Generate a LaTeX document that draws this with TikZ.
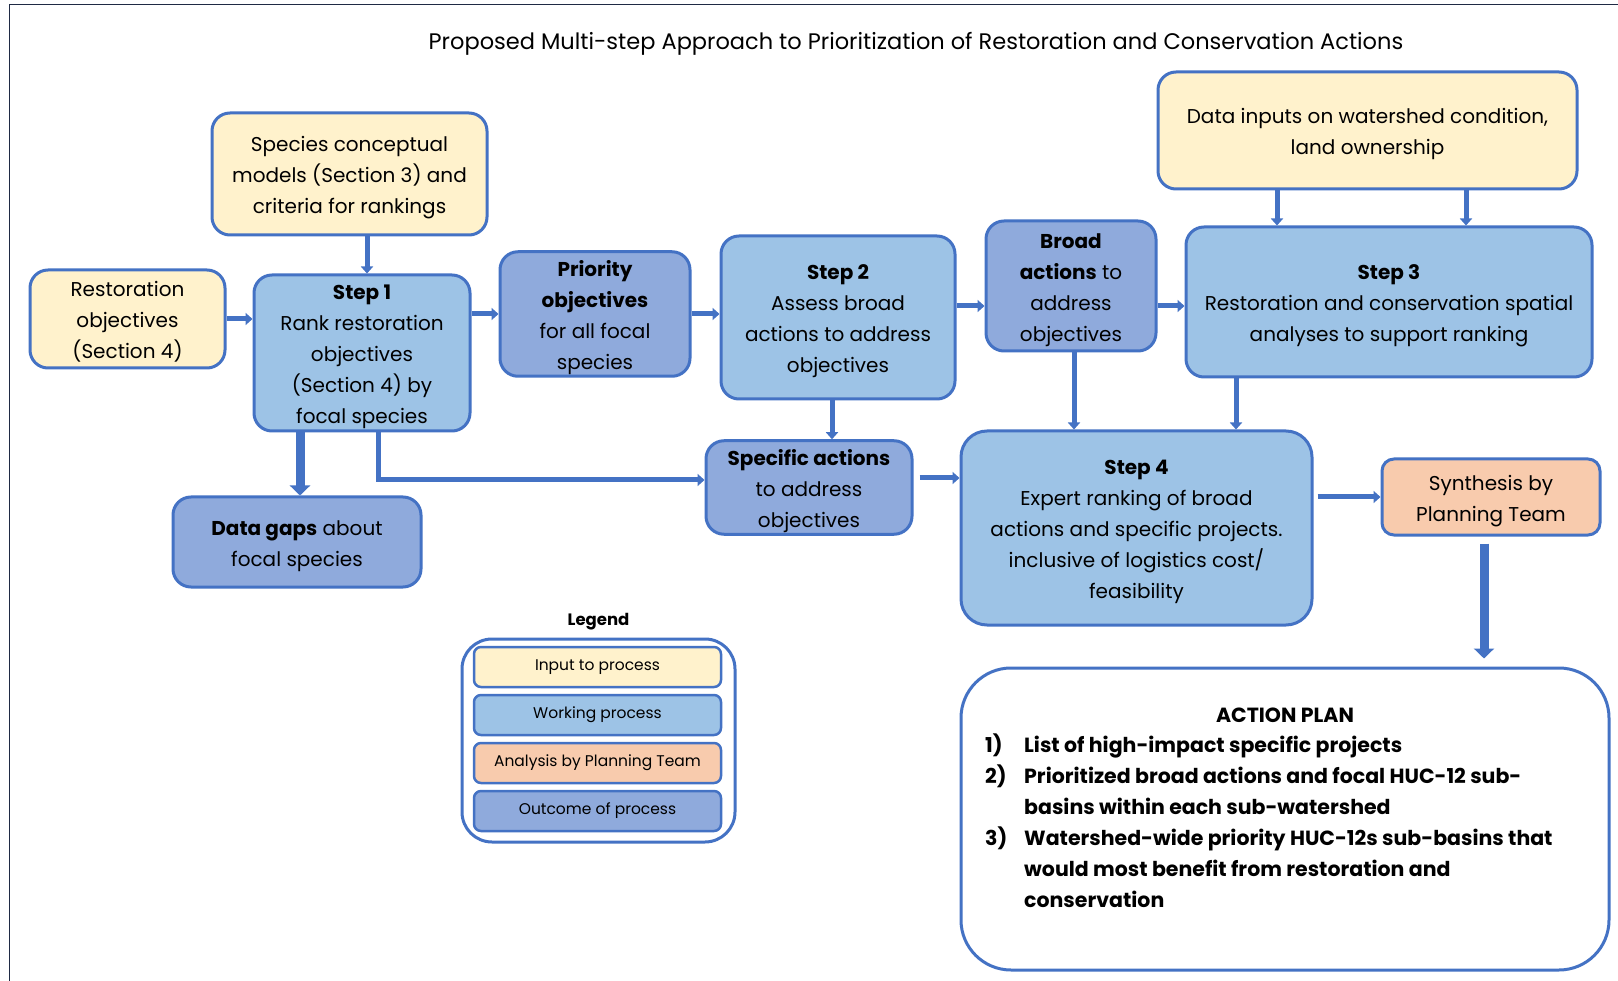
\documentclass[tikz,border=0pt]{standalone}
\usepackage{fontspec}
\setmainfont{Poppins}
\usetikzlibrary{arrows.meta}

\definecolor{edge}{HTML}{4472C4}
\definecolor{inputfill}{HTML}{FFF2CC}
\definecolor{workfill}{HTML}{9DC3E6}
\definecolor{teamfill}{HTML}{F8CBAD}
\definecolor{outfill}{HTML}{8FAADC}
\definecolor{framecol}{HTML}{1F2A44}

\newcommand\boxfont{\fontsize{20}{31}\selectfont}
\newcommand\legfont{\fontsize{15.5}{18}\selectfont}
\newcommand\planfont{\fontsize{20.5}{31}\selectfont\bfseries}
% invisible strut: fixes the height of the first and the depth of the last line
\newcommand\boxstrut{\rule[-7pt]{0pt}{31.5pt}}

\tikzset{
  base/.style={draw=edge, line width=3pt, rounded corners=18pt, align=center,
    inner sep=0pt, font=\boxfont, text=black, execute at end node=\boxstrut},
  sz/.style 2 args={minimum width=#1pt, minimum height=#2pt},
  inputbox/.style={base, fill=inputfill},
  workbox/.style={base, fill=workfill},
  teambox/.style={base, fill=teamfill, rounded corners=12pt},
  outbox/.style={base, fill=outfill},
  arr/.style={draw=edge, line width=5pt, -{Triangle[width=12pt,length=7pt]}},
  bigarr/.style={draw=edge, line width=9pt, -{Triangle[width=20pt,length=10pt]}},
  keybox/.style={draw=edge, line width=2.5pt, rounded corners=7pt,
    minimum width=247pt, minimum height=40pt, font=\legfont, inner sep=0pt},
}

\begin{document}
\begin{tikzpicture}[x=1pt, y=-1pt]
  \useasboundingbox (0,0) rectangle (1618,981);
  \fill[white] (0,0) rectangle (1618,981);
  % page frame (top and left rules)
  \draw[framecol, line width=1.5pt] (9.5,981) -- (9.5,4.5) -- (1618,4.5);

  \node[font=\fontsize{22.5}{27}\selectfont] (title) at (916,44)
    {Proposed Multi-step Approach to Prioritization of Restoration and Conservation Actions};

  % inputs
  \node[inputbox, sz={275}{122}] (species) at (349.5,174)
    {\boxstrut Species conceptual\\models (Section 3) and\\criteria for rankings};
  \node[inputbox, sz={195}{98}] (restor) at (127.5,319)
    {\boxstrut Restoration\\objectives\\(Section 4)};
  \node[inputbox, sz={419}{117}] (datain) at (1367.5,130.5)
    {\boxstrut Data inputs on watershed condition,\\land ownership};

  % working steps
  \node[workbox, sz={216}{156}] (step1) at (362,353)
    {\boxstrut\textbf{Step 1}\\Rank restoration\\objectives\\(Section 4) by\\focal species};
  \node[workbox, sz={234}{163}] (step2) at (838,317.5)
    {\boxstrut\textbf{Step 2}\\Assess broad\\actions to address\\objectives};
  \node[workbox, sz={406}{150}] (step3) at (1389,302)
    {\boxstrut\textbf{Step 3}\\Restoration and conservation spatial\\analyses to support ranking};
  \node[workbox, sz={351}{194}, rounded corners=26pt] (step4) at (1136.5,528)
    {\boxstrut\textbf{Step 4}\\Expert ranking of broad\\actions and specific projects.\\inclusive of logistics cost/\\feasibility};

  % outcomes
  \node[outbox, sz={190}{120}] (prio) at (595,314)
    {\boxstrut\textbf{Priority}\\\textbf{objectives}\\for all focal\\species};
  \node[outbox, sz={170}{130}] (broad) at (1071,286)
    {\boxstrut\textbf{Broad}\\\textbf{actions} to\\address\\objectives};
  \node[outbox, sz={206}{91}] (spec) at (809,487.5)
    {\boxstrut\textbf{Specific actions}\\to address\\objectives};
  \node[outbox, sz={248}{90}] (gaps) at (297,542)
    {\boxstrut\textbf{Data gaps} about\\focal species};

  % planning team
  \node[teambox, sz={218}{76}] (synth) at (1491,497)
    {\boxstrut Synthesis by\\Planning Team};

  % action plan
  \node[draw=edge, line width=3pt, rounded corners=50pt, fill=white, sz={648}{302}] (plan) at (1285,819) {};
  \node[font=\planfont] (plantitle) at (1285,715) {ACTION PLAN};
  \node[font=\planfont, anchor=north west, inner sep=0pt, align=left] (planlist) at (985,731)
    {\begin{tabular}{@{}p{39pt}@{}l@{}}
      1) & List of high-impact specific projects\\
      2) & Prioritized broad actions and focal HUC-12 sub-\\
         & basins within each sub-watershed\\
      3) & Watershed-wide priority HUC-12s sub-basins that\\
         & would most benefit from restoration and\\
         & conservation
     \end{tabular}};

  % legend
  \node[font=\fontsize{16.5}{20}\selectfont\bfseries] (legtitle) at (598.5,622) {Legend};
  \node[draw=edge, line width=3pt, rounded corners=30pt, sz={273}{203}] (legframe) at (598.5,740.5) {};
  \node[keybox, fill=inputfill] (keyin) at (597.5,667) {Input to process};
  \node[keybox, fill=workfill] (keywork) at (597.5,715) {Working process};
  \node[keybox, fill=teamfill] (keyteam) at (597.5,763) {Analysis by Planning Team};
  \node[keybox, fill=outfill] (keyout) at (597.5,811) {Outcome of process};

  % connectors
  \draw[arr] ([xshift=17.5pt]species.south) -- ([xshift=17.5pt]species.south |- step1.north);
  \draw[arr] (restor.east) -- (restor.east -| step1.west);
  \draw[arr] (prio.west -| step1.east) -- (prio.west);
  \draw[arr] (prio.east) -- (prio.east -| step2.west);
  \draw[arr] ([yshift=-20pt]broad.west -| step2.east) -- ([yshift=-20pt]broad.west);
  \draw[arr] ([yshift=-20pt]broad.east) -- ([yshift=-20pt]broad.east -| step3.west);
  \draw[arr] ([xshift=-90.5pt]datain.south) -- ([xshift=-90.5pt]datain.south |- step3.north);
  \draw[arr] ([xshift=98.5pt]datain.south) -- ([xshift=98.5pt]datain.south |- step3.north);
  \draw[arr] ([xshift=-6pt]step2.south) -- ([xshift=-6pt]step2.south |- spec.north);
  \draw[bigarr] ([xshift=-62pt]step1.south) -- ([xshift=-62pt]step1.south |- gaps.north);
  \draw[arr] ([xshift=16pt]step1.south) |- ([yshift=7.5pt]spec.west);
  \draw[arr, shorten <=6pt] ([yshift=9.5pt]spec.east) -- ([yshift=9.5pt]spec.east -| step4.west);
  \draw[arr] ([xshift=3pt]broad.south) -- ([xshift=3pt]broad.south |- step4.north);
  \draw[arr] ([xshift=-153pt]step3.south) -- ([xshift=-153pt]step3.south |- step4.north);
  \draw[arr, shorten <=4pt] (synth.west -| step4.east) -- (synth.west);
  \draw[bigarr, shorten <=7pt, shorten >=8pt] ([xshift=-7pt]synth.south) -- ([xshift=-7pt]synth.south |- plan.north);
\end{tikzpicture}
\end{document}
